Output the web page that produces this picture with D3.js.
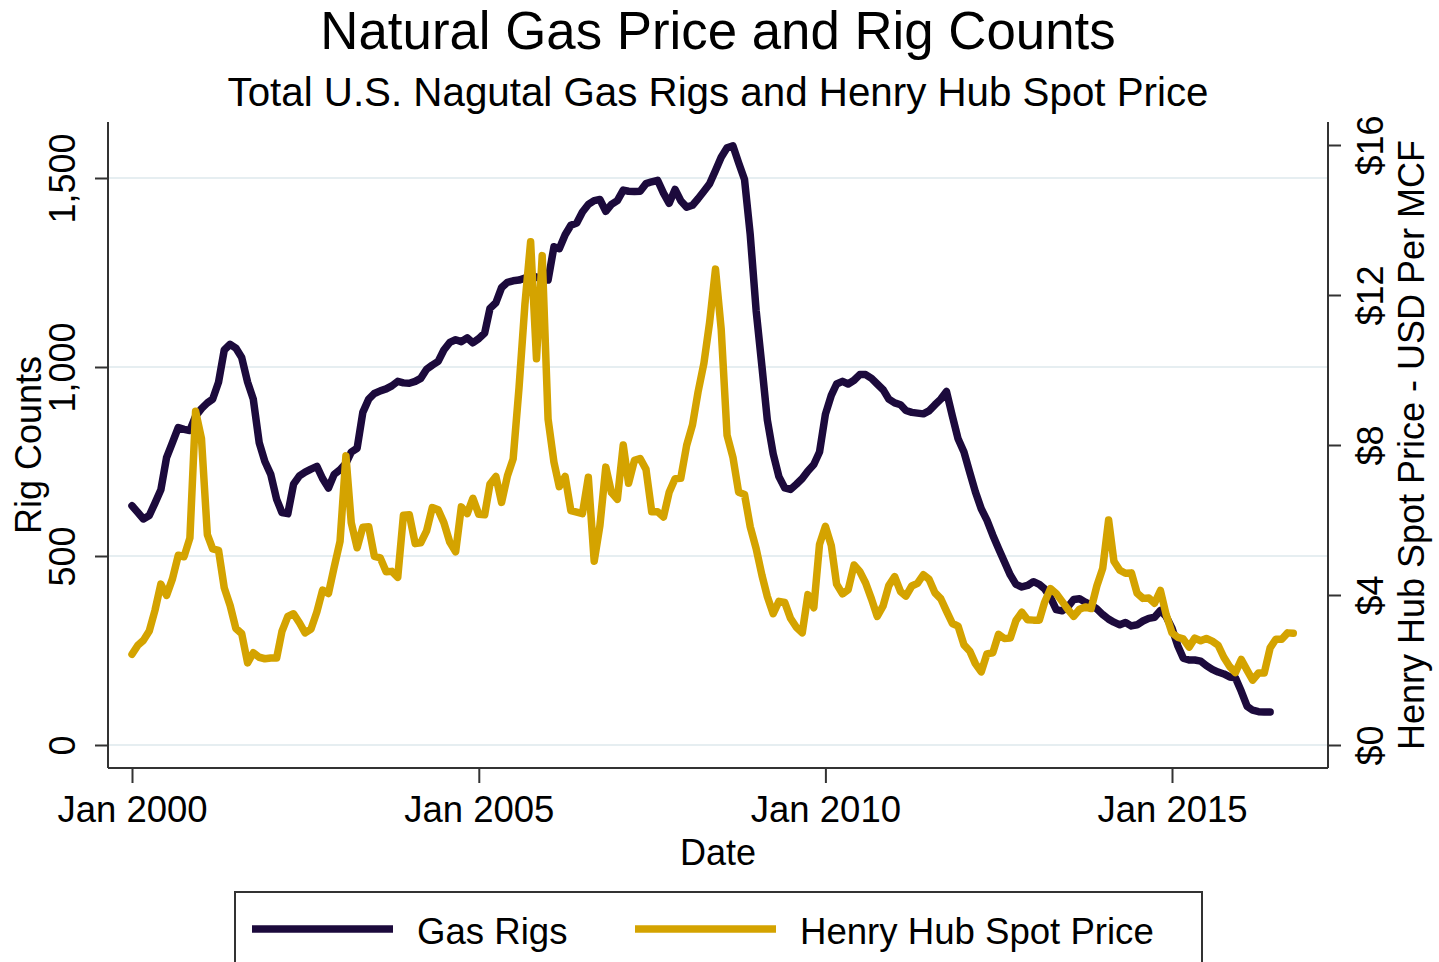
<!DOCTYPE html>
<html>
<head>
<meta charset="utf-8">
<script src="https://cdn.jsdelivr.net/npm/d3@7.9.0/dist/d3.min.js"></script>
<style>
  body { margin: 0; background: #fff; }
  svg { display: block; font-family: "Liberation Sans", Arial, Helvetica, sans-serif; }
</style>
</head>
<body>
<svg id="chart" width="1439" height="962"></svg>
<script>
// monthly values, first month Jan 2000
const startYear = 2000;

// Total U.S. natural gas rigs, Jan 2000 - Jun 2016
const rigs = [
  633, 615, 598, 607, 640, 675, 760, 800, 840, 835, 832, 870,
  890, 905, 915, 960, 1045, 1060, 1050, 1025, 960, 915, 800, 750,
  716, 650, 615, 612, 690, 712, 722, 730, 737, 705, 680, 716,
  728, 745, 775, 785, 880, 915, 930, 937, 942, 950, 962, 958,
  957, 962, 970, 994, 1005, 1015, 1045, 1065, 1072, 1067, 1077, 1064,
  1075, 1090, 1155, 1170, 1210, 1224, 1228, 1230, 1235, 1240, 1238, 1230,
  1230, 1318, 1313, 1350, 1375, 1381, 1410, 1430, 1440, 1443, 1412, 1430,
  1440, 1468, 1465, 1464, 1465, 1485, 1490, 1494, 1460, 1433, 1470, 1440,
  1423, 1428, 1445, 1465, 1485, 1520, 1555, 1580, 1585, 1540, 1496, 1350,
  1150, 1000, 860, 770, 710, 680, 676, 690, 705, 725, 742, 775,
  875, 925, 955, 962, 955, 965, 980, 980, 970, 955, 940, 915,
  905, 900, 885, 880, 878, 876, 884, 900, 915, 935, 870, 810,
  775, 720, 670, 625, 595, 555, 520, 485, 450, 425, 418, 422,
  432, 425, 413, 390, 358, 355, 365, 385, 387, 378, 370, 360,
  345, 333, 325, 318, 324, 315, 318, 328, 335, 338, 356, 340,
  309, 262, 230, 225, 225, 222, 210, 200, 193, 188, 180, 178,
  142, 102, 92, 88, 87, 87
];

// Henry Hub spot price (USD per MCF), Jan 2000 - Oct 2016
const price = [
  2.42, 2.66, 2.79, 3.04, 3.59, 4.29, 3.99, 4.43, 5.06, 5.02, 5.52, 8.90,
  8.17, 5.61, 5.23, 5.19, 4.19, 3.72, 3.11, 2.97, 2.19, 2.46, 2.34, 2.30,
  2.32, 2.32, 3.03, 3.43, 3.50, 3.26, 2.99, 3.09, 3.55, 4.13, 4.04, 4.74,
  5.43, 7.71, 5.93, 5.26, 5.81, 5.82, 5.03, 4.99, 4.62, 4.63, 4.47, 6.13,
  6.14, 5.37, 5.39, 5.71, 6.33, 6.27, 5.93, 5.41, 5.15, 6.35, 6.17, 6.58,
  6.15, 6.14, 6.96, 7.16, 6.47, 7.18, 7.63, 9.53, 11.75, 13.42, 10.30, 13.05,
  8.69, 7.54, 6.89, 7.16, 6.25, 6.21, 6.17, 7.14, 4.90, 5.85, 7.41, 6.73,
  6.55, 8.00, 6.98, 7.59, 7.64, 7.35, 6.22, 6.22, 6.08, 6.74, 7.10, 7.11,
  7.99, 8.54, 9.41, 10.18, 11.27, 12.69, 11.09, 8.26, 7.67, 6.74, 6.68, 5.82,
  5.24, 4.52, 3.96, 3.50, 3.83, 3.80, 3.38, 3.14, 2.99, 4.01, 3.66, 5.35,
  5.83, 5.32, 4.29, 4.03, 4.14, 4.80, 4.63, 4.32, 3.89, 3.43, 3.71, 4.25,
  4.49, 4.09, 3.97, 4.24, 4.31, 4.54, 4.42, 4.06, 3.90, 3.57, 3.24, 3.17,
  2.67, 2.50, 2.17, 1.95, 2.43, 2.46, 2.95, 2.84, 2.85, 3.32, 3.54, 3.34,
  3.33, 3.33, 3.81, 4.17, 4.04, 3.83, 3.62, 3.43, 3.62, 3.68, 3.64, 4.24,
  4.71, 6.00, 4.90, 4.66, 4.58, 4.59, 4.05, 3.91, 3.92, 3.78, 4.12, 3.48,
  2.99, 2.87, 2.83, 2.61, 2.85, 2.78, 2.84, 2.77, 2.66, 2.34, 2.09, 1.93,
  2.28, 1.99, 1.73, 1.92, 1.92, 2.59, 2.82, 2.82, 2.99, 2.98
];

const xTickYears = [2000, 2005, 2010, 2015];
const rigTicks = [0, 500, 1000, 1500];
const priceTicks = [0, 4, 8, 12, 16];
const seriesNames = ["Gas Rigs", "Henry Hub Spot Price"];

const rigColor = "#1c0a3c";
const priceColor = "#d4a300";

const svg = d3.select("#chart");
const plot = { left: 108, right: 1328, top: 122, bottom: 768 };

const x = d3.scaleTime()
  .domain([new Date(2000, 0, 1), new Date(2015, 0, 1)])
  .range([132, 1172]);
const yRig = d3.scaleLinear().domain([0, 1500]).range([745, 178]);
const yPrice = d3.scaleLinear().domain([0, 16]).range([745, 145]);

const month = (i) => new Date(startYear, i, 1);

// gridlines
svg.append("g")
  .selectAll("line")
  .data(rigTicks)
  .join("line")
  .attr("x1", plot.left)
  .attr("x2", plot.right)
  .attr("y1", (d) => yRig(d))
  .attr("y2", (d) => yRig(d))
  .attr("stroke", "#e6eef1")
  .attr("stroke-width", 2);

// lines
const rigLine = d3.line()
  .x((d, i) => x(month(i)))
  .y((d) => yRig(d));
const priceLine = d3.line()
  .x((d, i) => x(month(i)))
  .y((d) => yPrice(d));

svg.append("path")
  .attr("d", rigLine(rigs))
  .attr("fill", "none")
  .attr("stroke", rigColor)
  .attr("stroke-width", 7.5)
  .attr("stroke-linejoin", "round")
  .attr("stroke-linecap", "round");

svg.append("path")
  .attr("d", priceLine(price))
  .attr("fill", "none")
  .attr("stroke", priceColor)
  .attr("stroke-width", 7.5)
  .attr("stroke-linejoin", "round")
  .attr("stroke-linecap", "round");

// axes
const axisColor = "#333";

const gLeft = svg.append("g")
  .attr("transform", `translate(${plot.left},0)`)
  .call(d3.axisLeft(yRig).tickValues(rigTicks).tickSize(13).tickFormat(d3.format(",")));
gLeft.select(".domain").attr("d", `M0,${plot.top}V${plot.bottom}`);
gLeft.selectAll("text")
  .attr("transform", "rotate(-90)")
  .attr("x", 0)
  .attr("y", -46)
  .attr("dy", "0.35em")
  .attr("text-anchor", "middle")
  .style("font-size", "36px");

const gRight = svg.append("g")
  .attr("transform", `translate(${plot.right},0)`)
  .call(d3.axisRight(yPrice).tickValues(priceTicks).tickSize(13).tickFormat((d) => `$${d}`));
gRight.select(".domain").attr("d", `M0,${plot.top}V${plot.bottom}`);
gRight.selectAll("text")
  .attr("transform", "rotate(-90)")
  .attr("x", 0)
  .attr("y", 42)
  .attr("dy", "0.35em")
  .attr("text-anchor", "middle")
  .style("font-size", "36px");

const gBottom = svg.append("g")
  .attr("transform", `translate(0,${plot.bottom})`)
  .call(d3.axisBottom(x)
    .tickValues(xTickYears.map((y) => new Date(y, 0, 1)))
    .tickSize(15)
    .tickFormat(d3.timeFormat("%b %Y")));
gBottom.select(".domain").attr("d", `M${plot.left},0H${plot.right}`);
gBottom.selectAll("text")
  .attr("y", 54)
  .attr("dy", 0)
  .style("font-size", "36.5px");

[gLeft, gRight, gBottom].forEach((g) => {
  g.attr("font-family", null).attr("font-size", null);
  g.select(".domain").attr("stroke", axisColor).attr("stroke-width", 2);
  g.selectAll(".tick line").attr("stroke", axisColor).attr("stroke-width", 2);
  g.selectAll("text").attr("fill", "#000");
});

// titles
svg.append("text")
  .attr("x", 718).attr("y", 49)
  .attr("text-anchor", "middle")
  .style("font-size", "52.8px")
  .text("Natural Gas Price and Rig Counts");

svg.append("text")
  .attr("x", 718).attr("y", 106)
  .attr("text-anchor", "middle")
  .style("font-size", "40.3px")
  .text("Total U.S. Nagutal Gas Rigs and Henry Hub Spot Price");

svg.append("text")
  .attr("x", 718).attr("y", 865)
  .attr("text-anchor", "middle")
  .style("font-size", "36px")
  .text("Date");

svg.append("text")
  .attr("transform", `translate(28,${(plot.top + plot.bottom) / 2}) rotate(-90)`)
  .attr("dy", "0.35em")
  .attr("text-anchor", "middle")
  .style("font-size", "36px")
  .text("Rig Counts");

svg.append("text")
  .attr("transform", `translate(1411,${(plot.top + plot.bottom) / 2}) rotate(-90)`)
  .attr("dy", "0.35em")
  .attr("text-anchor", "middle")
  .style("font-size", "36px")
  .text("Henry Hub Spot Price - USD Per MCF");

// legend
const legend = svg.append("g");
legend.append("rect")
  .attr("x", 235).attr("y", 892)
  .attr("width", 967).attr("height", 120)
  .attr("fill", "#fff")
  .attr("stroke", "#333")
  .attr("stroke-width", 2);

const legendItems = [
  { name: seriesNames[0], color: rigColor, x: 252 },
  { name: seriesNames[1], color: priceColor, x: 635 }
];
legendItems.forEach((d) => {
  legend.append("line")
    .attr("x1", d.x).attr("x2", d.x + 141)
    .attr("y1", 929).attr("y2", 929)
    .attr("stroke", d.color)
    .attr("stroke-width", 7.5);
  legend.append("text")
    .attr("x", d.x + 165).attr("y", 944)
    .style("font-size", "36.6px")
    .text(d.name);
});
</script>
</body>
</html>
